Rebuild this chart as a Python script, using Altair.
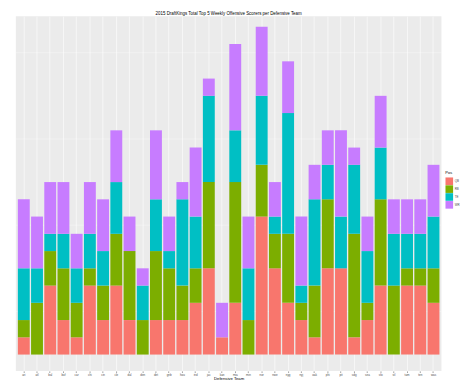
import altair as alt
import pandas as pd

teams = ["ari", "atl", "bal", "buf", "car", "chi", "cin", "cle", "dal", "den",
         "det", "gnb", "hou", "ind", "jac", "kan", "mia", "min", "nor", "nwe",
         "nyg", "nyj", "oak", "phi", "pit", "sdg", "sea", "sfo", "stl", "tam",
         "ten", "was"]
positions = ["QB", "RB", "TE", "WR"]
qb = [1, 0, 4, 2, 1, 4, 2, 4, 2, 0, 2, 2, 2, 3, 5, 1, 3, 0, 8, 5, 3, 2, 1, 5, 5, 1, 2, 4, 0, 4, 4, 3]
rb = [1, 3, 2, 3, 2, 1, 2, 3, 4, 2, 4, 3, 2, 2, 5, 0, 7, 2, 3, 2, 4, 1, 3, 4, 0, 6, 1, 5, 4, 1, 1, 2]
te = [3, 2, 1, 2, 2, 2, 2, 3, 0, 2, 3, 1, 5, 3, 5, 0, 3, 3, 4, 1, 7, 1, 5, 2, 3, 4, 3, 3, 3, 2, 2, 3]
wr = [4, 3, 3, 3, 2, 3, 3, 3, 2, 1, 4, 2, 1, 4, 1, 2, 5, 3, 4, 2, 3, 4, 2, 2, 5, 1, 2, 3, 2, 2, 2, 3]
colors = ["#F8766D", "#7CAE00", "#00BFC4", "#C77CFF"]
y_ticks = [0, 5, 10, 15]
y_minor = [2.5, 7.5, 12.5, 17.5]

rows = []
for i, t in enumerate(teams):
    for j, (p, vals) in enumerate(zip(positions, [qb, rb, te, wr])):
        if vals[i] > 0:
            rows.append({"team": t, "pos": p, "count": vals[i], "ord": j})
df = pd.DataFrame(rows)
minor_df = pd.DataFrame({"y": y_minor})

FONT = "Liberation Sans"
yscale = alt.Scale(domain=[-0.95, 19.62], nice=False, zero=False)

minor_rules = alt.Chart(minor_df).mark_rule(color="white", strokeWidth=0.35).encode(
    y=alt.Y("y:Q", scale=yscale, axis=None)
)

bars = alt.Chart(df).mark_bar().encode(
    x=alt.X("team:N", sort=teams,
            scale=alt.Scale(paddingInner=0.1, paddingOuter=0.15),
            axis=alt.Axis(title="Defensive Team", labelAngle=0, grid=True,
                          bandPosition=0.5, gridColor="white", gridWidth=0.6,
                          labelFontSize=3, labelPadding=0.8, tickSize=1.5,
                          titleFontSize=4.3, titleBaseline="bottom", titleY=9.5)),
    y=alt.Y("count:Q", stack="zero", scale=yscale,
            axis=alt.Axis(title="Top 5 Weekly Scorers", values=y_ticks,
                          grid=True, gridColor="white", gridWidth=0.7,
                          labelFontSize=3, labelPadding=0.5, tickSize=1.3,
                          titleFontSize=4.3, titleBaseline="alphabetic",
                          titleX=-5.2, titleAngle=270)),
    color=alt.Color("pos:N", scale=alt.Scale(domain=positions, range=colors),
                    legend=alt.Legend(title="Pos", orient="none", legendX=437,
                                      legendY=158, symbolType="square",
                                      symbolSize=60, symbolStrokeWidth=0,
                                      rowPadding=0, titleFontSize=4,
                                      titleFontWeight="normal", titlePadding=2,
                                      titleBaseline="top",
                                      labelFontSize=3, labelOffset=1.5,
                                      labelColor="#4D4D4D", titleColor="black",
                                      labelFont=FONT, titleFont=FONT)),
    order=alt.Order("ord:Q", sort="ascending"),
)

chart = alt.layer(minor_rules, bars).properties(
    width=433, height=361,
    autosize=alt.AutoSizeParams(type="none"),
    padding={"left": 8, "top": 5, "right": 25, "bottom": 10},
    title=alt.TitleParams("2015 DraftKings Total Top 5 Weekly Offensive Scorers per Defensive Team",
                          fontSize=4.5, fontWeight="normal", font=FONT,
                          anchor="middle", frame="group", offset=1, color="black"),
).configure_view(
    fill="#EBEBEB", strokeWidth=0
).configure_axis(
    domain=False, tickColor="#333333", tickWidth=0.5,
    labelColor="#4D4D4D", titleColor="black", labelFont=FONT, titleFont=FONT,
    titleFontWeight="normal", titlePadding=0
)

chart.save("out.html", embed_options={"renderer": "svg", "actions": False})
